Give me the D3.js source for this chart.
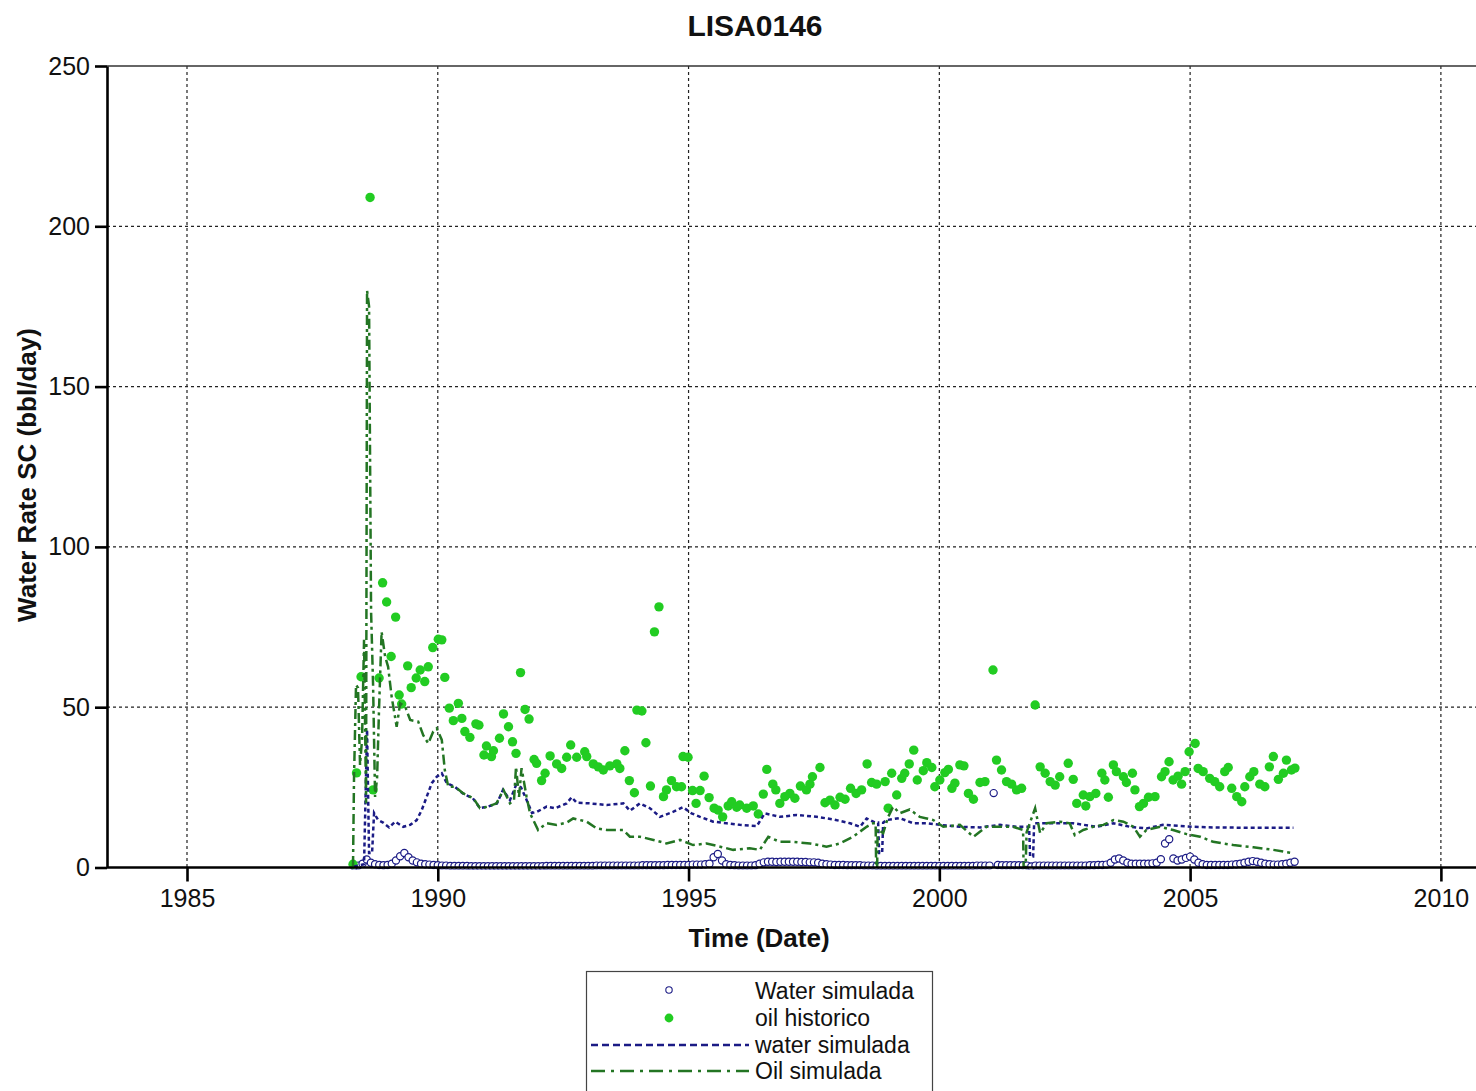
<!DOCTYPE html>
<html><head><meta charset="utf-8">
<script src="https://cdn.jsdelivr.net/npm/d3@7"></script>
<style>body{margin:0;background:#fff}svg{display:block;font-family:"Liberation Sans",Arial,sans-serif}</style>
</head><body><svg id="chart" width="1476" height="1091"></svg>
<script>
const chartTitle = "LISA0146";
const yLabel = "Water Rate SC (bbl/day)";
const xLabel = "Time (Date)";
const yTicks = [0, 50, 100, 150, 200, 250];
const xTicks = [1985, 1990, 1995, 2000, 2005, 2010];
const legendLabels = ["Water simulada", "oil historico", "water simulada", "Oil simulada"];

// oil historico (decimal year, bbl/day)
const oilHistDates = [1988.31,1988.38,1988.47,1988.65,1988.71,1988.83,1988.90,1988.98,1989.07,1989.16,1989.23,1989.28,1989.40,1989.47,1989.57,1989.65,1989.74,1989.81,1989.90,1990.01,1990.08,1990.14,1990.23,1990.31,1990.41,1990.48,1990.54,1990.64,1990.76,1990.82,1990.92,1990.97,1991.07,1991.11,1991.23,1991.31,1991.41,1991.49,1991.56,1991.65,1991.74,1991.82,1991.92,1991.97,1992.07,1992.14,1992.24,1992.37,1992.47,1992.57,1992.65,1992.77,1992.93,1992.97,1993.10,1993.20,1993.30,1993.43,1993.57,1993.63,1993.73,1993.82,1993.92,1993.97,1994.07,1994.15,1994.24,1994.32,1994.41,1994.50,1994.56,1994.66,1994.76,1994.86,1994.89,1994.99,1995.08,1995.15,1995.23,1995.31,1995.41,1995.51,1995.59,1995.68,1995.79,1995.86,1995.96,1996.02,1996.16,1996.29,1996.39,1996.49,1996.56,1996.68,1996.74,1996.82,1996.92,1997.02,1997.12,1997.23,1997.35,1997.42,1997.47,1997.62,1997.72,1997.82,1997.92,1998.02,1998.12,1998.23,1998.34,1998.45,1998.56,1998.65,1998.75,1998.92,1998.98,1999.05,1999.15,1999.25,1999.31,1999.40,1999.49,1999.56,1999.68,1999.75,1999.85,1999.91,2000.01,2000.11,2000.18,2000.25,2000.31,2000.41,2000.49,2000.58,2000.68,2000.81,2000.91,2001.07,2001.14,2001.24,2001.34,2001.44,2001.54,2001.64,2001.91,2002.01,2002.11,2002.21,2002.31,2002.40,2002.57,2002.67,2002.74,2002.87,2002.92,2003.00,2003.12,2003.24,2003.30,2003.37,2003.47,2003.53,2003.67,2003.73,2003.85,2003.90,2003.99,2004.07,2004.17,2004.30,2004.43,2004.50,2004.58,2004.66,2004.76,2004.83,2004.90,2004.98,2005.10,2005.16,2005.26,2005.39,2005.49,2005.59,2005.69,2005.76,2005.83,2005.93,2006.03,2006.09,2006.19,2006.27,2006.39,2006.49,2006.58,2006.66,2006.76,2006.86,2006.92,2007.02,2007.09];
const oilHistValues = [1,29.5,59.5,209,24.2,59.1,88.8,82.8,65.8,78.1,53.8,51,62.9,56.1,59.1,61.6,58,62.6,68.6,71.2,71,59.3,49.7,45.8,51.2,46.5,42.4,40.6,44.8,44.4,35.1,37.9,34.6,36.4,40.3,47.9,43.9,39.2,35.6,60.8,49.3,46.3,33.7,32.5,27.1,29.4,34.8,32.3,30.9,34.4,38.2,34.4,36.1,34.6,32.3,31.4,30.4,31.7,32.3,30.9,36.4,27.1,23.3,49.1,48.8,38.9,25.4,73.5,81.3,22.1,24.2,27.1,25.2,25.2,34.6,34.4,24,20,24,28.5,21.8,18.5,17.9,15.8,19.2,20.5,18.8,19.5,18.5,19.2,16.7,22.9,30.6,26,24.2,20,22.1,23.1,21.6,25.4,24.2,26,28.3,31.2,20.2,21,19.5,21.9,21.3,24.7,23.1,24.2,32.3,26.5,26,26.8,18.5,29.4,22.6,27.8,29.4,32.3,36.6,27.3,30.2,32.7,31.2,25.2,27.3,29.6,30.6,24.7,26.3,32,31.7,23.1,21.3,26.5,26.8,61.6,33.5,30.4,26.8,26,24.2,24.7,50.7,31.4,29.4,26.8,25.7,28.3,32.5,27.5,20,22.6,19.2,22.1,23.1,29.4,27.3,21.9,32,29.9,28.3,26.5,29.4,24.2,19,20,21.9,22.1,28.3,29.9,33,27.3,28.5,26,29.9,36.1,38.7,30.9,29.9,27.8,26.8,25.2,29.9,31.2,24.7,22.1,20.5,25.2,28.3,29.9,26,25.2,31.4,34.6,27.5,29.4,33.5,30.4,31];

// Water simulada (monthly report values, first month May 1988)
const waterSimFirstYear = 1988, waterSimFirstMonth = 4;
const waterSimValues = [
  0.3,0.6,1.2,2.5,1.5,1.0,0.8,0.7,
  0.8,1.2,2.2,3.5,4.5,3.2,2.2,1.6,1.2,1.0,0.9,0.8,
  0.7,0.6,0.6,0.5,0.5,0.5,0.5,0.5,0.4,0.4,0.4,0.4,
  0.4,0.4,0.4,0.4,0.4,0.4,0.4,0.4,0.4,0.4,0.4,0.4,
  0.4,0.4,0.5,0.5,0.5,0.5,0.5,0.5,0.5,0.5,0.5,0.5,
  0.5,0.5,0.6,0.6,0.6,0.6,0.6,0.6,0.6,0.6,0.6,0.6,
  0.6,0.7,0.7,0.7,0.7,0.7,0.7,0.8,0.8,0.8,0.8,0.8,
  0.8,0.9,0.9,0.9,1.0,1.2,3.2,4.2,2.2,1.0,0.8,0.7,
  0.6,0.6,0.6,0.6,0.7,1.2,1.6,1.8,1.8,1.7,1.8,1.8,
  1.8,1.8,1.8,1.7,1.7,1.6,1.6,1.5,1.2,1.0,0.9,0.8,
  0.8,0.8,0.7,0.7,0.7,0.7,0.6,0.6,0.6,0.5,0.5,0.5,
  0.5,0.5,0.5,0.5,0.5,0.5,0.5,0.5,0.5,0.5,0.5,0.5,
  0.5,0.5,0.5,0.5,0.5,0.5,0.5,0.5,0.5,0.6,0.6,0.6,
  0.6,23.2,0.8,0.7,0.7,0.7,0.7,0.7,0.7,0.6,0.3,0.6,
  0.6,0.6,0.6,0.6,0.6,0.6,0.6,0.6,0.6,0.6,0.6,0.6,
  0.7,0.7,0.8,0.8,0.9,1.5,2.5,2.8,2.2,1.5,1.2,1.2,
  1.2,1.2,1.2,1.3,1.5,2.6,7.5,8.8,2.8,2.2,2.5,3.0,
  3.4,2.5,1.5,1.0,0.8,0.8,0.8,0.8,0.8,0.8,0.9,1.0,
  1.2,1.5,1.8,2.0,1.8,1.5,1.2,1.0,0.9,0.9,1.0,1.2,
  1.5,1.8];

// water simulada (line)
const waterLineDates = [1988.33,1988.53,1988.59,1988.63,1988.69,1988.73,1988.81,1988.91,1989.03,1989.15,1989.31,1989.45,1989.58,1989.68,1989.78,1989.88,1989.98,1990.08,1990.18,1990.34,1990.50,1990.70,1990.84,1991.00,1991.18,1991.30,1991.44,1991.56,1991.66,1991.80,1991.88,1991.98,1992.17,1992.34,1992.57,1992.67,1992.77,1993.03,1993.37,1993.70,1993.83,1994.03,1994.23,1994.43,1994.70,1994.89,1995.06,1995.23,1995.49,1995.76,1996.02,1996.36,1996.52,1996.82,1997.16,1997.55,1997.89,1998.22,1998.42,1998.55,1998.72,1998.78,1998.80,1998.86,1998.88,1998.95,1999.21,1999.48,1999.75,2000.01,2000.41,2000.81,2001.21,2001.54,2001.79,2001.81,2001.87,2001.89,2002.14,2002.67,2003.14,2003.47,2003.80,2004.13,2004.46,2005.06,2005.46,2006.13,2007.06];
const waterLineValues = [0.3,1.0,43,4.5,4.5,17,14.8,14,12.5,14.3,12.7,13.3,14.8,17.9,22.1,26.3,28.3,29.4,26.3,25.2,23.1,21.6,18.5,19,20,24.2,21,25.7,25,20,17,17.4,19,18.5,20,21.9,20.2,20,19.5,20,17.7,20,18.5,15.8,17.4,18.8,16.9,15.8,14.3,13.8,13.3,12.9,16.9,15.8,16.4,15.8,15,13.8,12.7,15.3,14,14,4.5,4.5,14,14.8,15.4,13.8,13.8,13.3,12.7,12.5,13.3,12.7,12.7,3.4,3.4,13.8,13.8,13.8,12.7,13.8,12.7,12.2,13.3,12.7,12.5,12.4,12.4];

// Oil simulada (line)
const oilLineDates = [1988.31,1988.33,1988.37,1988.41,1988.45,1988.49,1988.53,1988.57,1988.59,1988.63,1988.67,1988.71,1988.75,1988.79,1988.83,1988.88,1988.95,1989.01,1989.08,1989.18,1989.25,1989.35,1989.45,1989.61,1989.71,1989.81,1989.91,1989.98,1990.08,1990.14,1990.21,1990.34,1990.51,1990.71,1990.84,1991.01,1991.17,1991.31,1991.44,1991.52,1991.56,1991.62,1991.67,1991.77,1991.84,1992.00,1992.17,1992.37,1992.57,1992.70,1992.97,1993.17,1993.37,1993.70,1993.83,1994.03,1994.30,1994.56,1994.83,1995.09,1995.36,1995.63,1995.89,1996.22,1996.42,1996.59,1996.82,1997.09,1997.42,1997.75,1998.02,1998.28,1998.55,1998.68,1998.73,1998.74,1998.76,1998.77,1998.88,1998.98,1999.08,1999.21,1999.41,1999.61,1999.75,1999.88,2000.08,2000.41,2000.68,2000.94,2001.14,2001.47,2001.67,2001.68,2001.72,2001.74,2001.91,2002.01,2002.14,2002.40,2002.60,2002.70,2002.87,2003.07,2003.27,2003.47,2003.67,2003.87,2004.00,2004.13,2004.40,2004.66,2004.93,2005.20,2005.46,2005.86,2006.26,2006.66,2007.06];
const oilLineValues = [0.5,28,57,56,32,40,71,20,180,175,80,57,22,28,50,73.5,65.8,62.6,53.3,43.9,51.2,50.2,46,45.5,41.3,38.7,42.4,43.4,39.8,30.4,25.2,25.2,23.1,21.6,18.5,19,20,24.2,20,21,31.4,22,31,22.1,16.9,11.7,13.8,13.3,14,15.3,14.3,12.2,11.7,11.7,9.6,9.6,8.6,7.5,8.6,7,7.5,6.5,5.5,6,5.5,9.6,8,8,7.5,6.5,7.5,9.6,12.7,13.8,13.8,0,0,12,10.7,15.8,19,16.9,18.1,15.8,15.3,14.8,12.7,13.3,9.6,12.7,12.7,12.7,11.7,0,0,11,18.5,10.7,13.8,14.3,13.8,10.1,11.7,12.7,13.3,14.8,14.3,12.7,9.6,11.7,12.7,11.7,10.4,9.6,8,7,6.3,5.5,4.4];

const W = 1476, H = 1091;
const svg = d3.select("#chart");
const x = d3.scaleLinear().domain([1983.405, 2010.7]).range([107, 1476]);
const y = d3.scaleLinear().domain([0, 250]).range([867.5, 66]);
const blue = "#1b1b85", dkGreen = "#237523", dotGreen = "#22cc22";
const fontTick = 25;

svg.append("defs").append("clipPath").attr("id","plotclip")
  .append("rect").attr("x",107).attr("y",60).attr("width",W-107).attr("height",y(0)-60+2);

// grid
const grid = svg.append("g");
grid.selectAll(".vg").data(xTicks).join("line")
  .attr("x1",d=>x(d)).attr("x2",d=>x(d)).attr("y1",y(250)).attr("y2",y(0))
  .attr("stroke","#222").attr("stroke-width",1.2).attr("stroke-dasharray","3,3");
grid.selectAll(".hg").data(yTicks.filter(d=>d>0 && d<250)).join("line")
  .attr("x1",x.range()[0]).attr("x2",W).attr("y1",d=>y(d)).attr("y2",d=>y(d))
  .attr("stroke","#222").attr("stroke-width",1.2).attr("stroke-dasharray","3,3");
grid.append("line").attr("x1",x.range()[0]).attr("x2",W).attr("y1",y(250)).attr("y2",y(250))
  .attr("stroke","#333").attr("stroke-width",1.5);

const plot = svg.append("g").attr("clip-path","url(#plotclip)");

// water simulada circles
const waterSim = waterSimValues.map((v,i)=>({d: waterSimFirstYear + (waterSimFirstMonth + i)/12, v}));
plot.append("g").selectAll("circle").data(waterSim).join("circle")
  .attr("cx",p=>x(p.d)).attr("cy",p=>y(p.v)).attr("r",3.6)
  .attr("fill","#fff").attr("stroke",blue).attr("stroke-width",1.2);

// oil historico dots
const oilHist = oilHistDates.map((d,i)=>({d, v: oilHistValues[i]}));
plot.append("g").selectAll("circle").data(oilHist).join("circle")
  .attr("cx",p=>x(p.d)).attr("cy",p=>y(p.v)).attr("r",4.7)
  .attr("fill",dotGreen);

// lines
const line = d3.line().x(p=>x(p.d)).y(p=>y(p.v));
const waterLine = waterLineDates.map((d,i)=>({d, v: waterLineValues[i]}));
const oilLine = oilLineDates.map((d,i)=>({d, v: oilLineValues[i]}));
plot.append("path").datum(waterLine).attr("d",line).attr("fill","none")
  .attr("stroke",blue).attr("stroke-width",2.5).attr("stroke-dasharray","4,3");
plot.append("path").datum(oilLine).attr("d",line).attr("fill","none")
  .attr("stroke",dkGreen).attr("stroke-width",2.5).attr("stroke-dasharray","10,4,3,4");

// axes
const yAxis = svg.append("g").attr("transform",`translate(${x.range()[0]},0)`)
  .call(d3.axisLeft(y).tickValues(yTicks).tickSize(12).tickSizeOuter(0).tickPadding(5));
const xAxis = svg.append("g").attr("transform",`translate(0,${y(0)})`)
  .call(d3.axisBottom(x).tickValues(xTicks).tickFormat(d3.format("d")).tickSize(14).tickSizeOuter(0).tickPadding(8));
[yAxis,xAxis].forEach(a=>{
  a.select(".domain").attr("stroke","#000").attr("stroke-width",2.6);
  a.selectAll(".tick line").attr("stroke","#000").attr("stroke-width",2.6);
  a.selectAll(".tick text").attr("fill","#111").style("font-size",fontTick+"px")
    .style("font-family",'"Liberation Sans",Arial,sans-serif');
});
xAxis.select(".domain").attr("d",`M${x.range()[0]},0H${W}`);

// titles
svg.append("text").attr("x",755).attr("y",36).attr("text-anchor","middle")
  .style("font-size","30px").style("font-weight","bold").attr("fill","#111").text(chartTitle);
svg.append("text").attr("transform","translate(36,475) rotate(-90)").attr("text-anchor","middle")
  .style("font-size","26px").style("font-weight","bold").attr("fill","#111").text(yLabel);
svg.append("text").attr("x",759).attr("y",947).attr("text-anchor","middle")
  .style("font-size","26px").style("font-weight","bold").attr("fill","#111").text(xLabel);

// legend
const lg = svg.append("g");
lg.append("rect").attr("x",586.5).attr("y",971.5).attr("width",346).attr("height",140)
  .attr("fill","#fff").attr("stroke","#444").attr("stroke-width",1.2);
const rowY = [991, 1018, 1045, 1071];
lg.selectAll("text").data(legendLabels).join("text")
  .attr("x",755).attr("y",(d,i)=>rowY[i]).attr("dy","0.36em")
  .style("font-size","23px").attr("fill","#111").text(d=>d);
lg.append("circle").attr("cx",669).attr("cy",rowY[0]-1).attr("r",3.2)
  .attr("fill","#fff").attr("stroke",blue).attr("stroke-width",1.1);
lg.append("circle").attr("cx",669).attr("cy",rowY[1]).attr("r",4.4).attr("fill",dotGreen);
lg.append("line").attr("x1",591).attr("x2",749).attr("y1",rowY[2]).attr("y2",rowY[2])
  .attr("stroke",blue).attr("stroke-width",2.4).attr("stroke-dasharray","7,4");
lg.append("line").attr("x1",591).attr("x2",749).attr("y1",rowY[3]).attr("y2",rowY[3])
  .attr("stroke",dkGreen).attr("stroke-width",2.4).attr("stroke-dasharray","14,6,3,6");
</script></body></html>
